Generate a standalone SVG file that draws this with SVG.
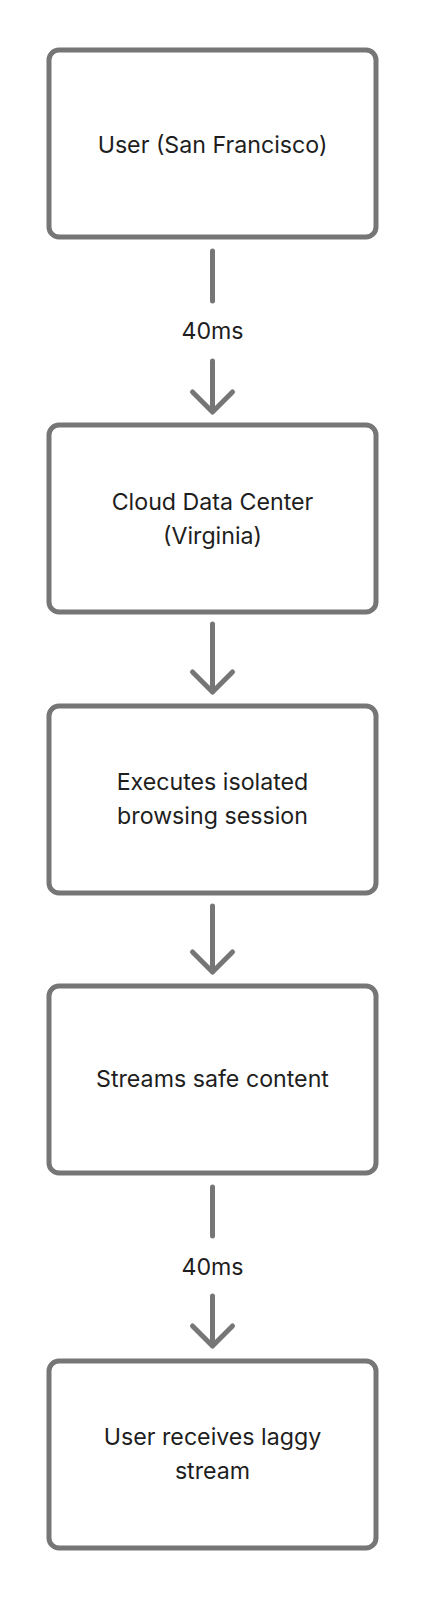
<svg xmlns="http://www.w3.org/2000/svg" width="424" height="1600" viewBox="0 0 424 1600">
<style>
.box{fill:#ffffff;stroke:#767676;stroke-width:5}
.t{font-family:Inter,"Noto Sans",sans-serif;font-size:23.2px;fill:#1e1e1e;text-anchor:middle}
.c{fill:none;stroke:#767676;stroke-width:5;stroke-linecap:round;stroke-linejoin:round}
</style>
<rect width="424" height="1600" fill="#ffffff"/>
<g id="connectors">
<path class="c" d="M212.5 251V301"/>
<text class="t" x="212.5" y="339">40ms</text>
<path class="c" d="M212.5 361V411M192.5 392L212.5 412L232.5 392"/>
<path class="c" d="M212.5 624V692M192.5 672L212.5 692L232.5 672"/>
<path class="c" d="M212.5 906V972M192.5 952L212.5 972L232.5 952"/>
<path class="c" d="M212.5 1187V1236"/>
<text class="t" x="212.5" y="1275">40ms</text>
<path class="c" d="M212.5 1296V1346M192.5 1326L212.5 1346L232.5 1326"/>
</g>
<g id="n1">
<rect class="box" x="49" y="50" width="327" height="187" rx="10"/>
<text class="t" x="212.5" y="153">User (San Francisco)</text>
</g>
<g id="n2">
<rect class="box" x="49" y="425" width="327" height="187" rx="10"/>
<text class="t" x="212.5" y="510">Cloud Data Center</text>
<text class="t" x="212.5" y="544">(Virginia)</text>
</g>
<g id="n3">
<rect class="box" x="49" y="706" width="327" height="187" rx="10"/>
<text class="t" x="212.5" y="790">Executes isolated</text>
<text class="t" x="212.5" y="824">browsing session</text>
</g>
<g id="n4">
<rect class="box" x="49" y="986" width="327" height="187" rx="10"/>
<text class="t" x="212.5" y="1087">Streams safe content</text>
</g>
<g id="n5">
<rect class="box" x="49" y="1361" width="327" height="187" rx="10"/>
<text class="t" x="212.5" y="1445">User receives laggy</text>
<text class="t" x="212.5" y="1479">stream</text>
</g>
</svg>
